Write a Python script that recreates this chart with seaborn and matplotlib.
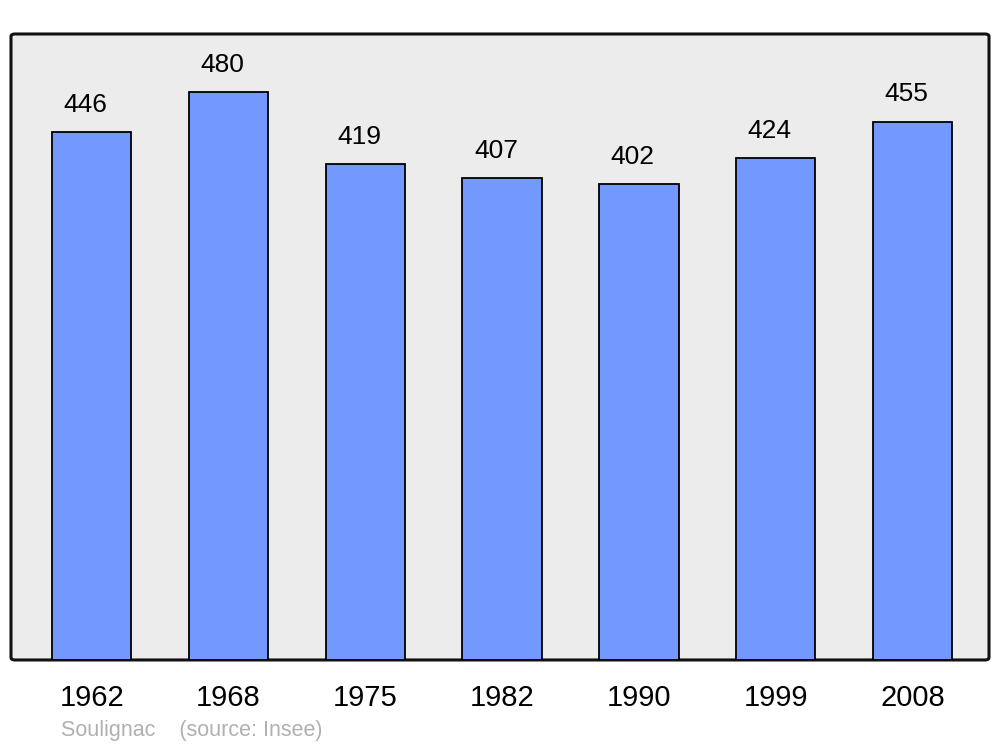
import matplotlib
matplotlib.use("Agg")
import matplotlib.pyplot as plt
import seaborn as sns
from matplotlib.patches import FancyBboxPatch

# Population data (Insee)
years = ["1962", "1968", "1975", "1982", "1990", "1999", "2008"]
population = [446, 480, 419, 407, 402, 424, 455]

sns.set_theme(style="white")
plt.rcParams['font.family'] = ['Liberation Sans', 'DejaVu Sans']

fig = plt.figure(figsize=(10, 7.47), dpi=100)
ax = fig.add_axes([0.011, 0.1165, 0.978, 0.838])
ax.set_facecolor("none")

# Rounded grey frame behind the bars
frame = FancyBboxPatch((0, 0), 1, 1, boxstyle="round,pad=0,rounding_size=0.004",
                       transform=ax.transAxes, facecolor="#ececec",
                       edgecolor="#111111", linewidth=2.2, zorder=0, clip_on=False)
ax.add_patch(frame)

sns.barplot(x=years, y=population, color="#7399ff", edgecolor="black",
            linewidth=1.3, width=0.58, saturation=1, ax=ax, zorder=2)

for i, v in enumerate(population):
    ax.annotate(str(v), (i, v), xytext=(-4.3, 11), textcoords="offset points",
                ha="center", va="bottom", fontsize=19, color="black")

ax.set_xlim(-0.59, 6.56)
ax.set_ylim(0, 529)
ax.set_yticks([])
ax.set_xlabel("")
ax.set_ylabel("")
for s in ax.spines.values():
    s.set_visible(False)
ax.tick_params(axis="x", length=0, pad=17, labelsize=21, colors="black")

fig.text(0.061, 0.0225, "Soulignac    (source: Insee)", fontsize=15.5,
         color="#b0b0b0", ha="left", va="center")

fig.savefig("out.png", dpi=100, facecolor="white")
